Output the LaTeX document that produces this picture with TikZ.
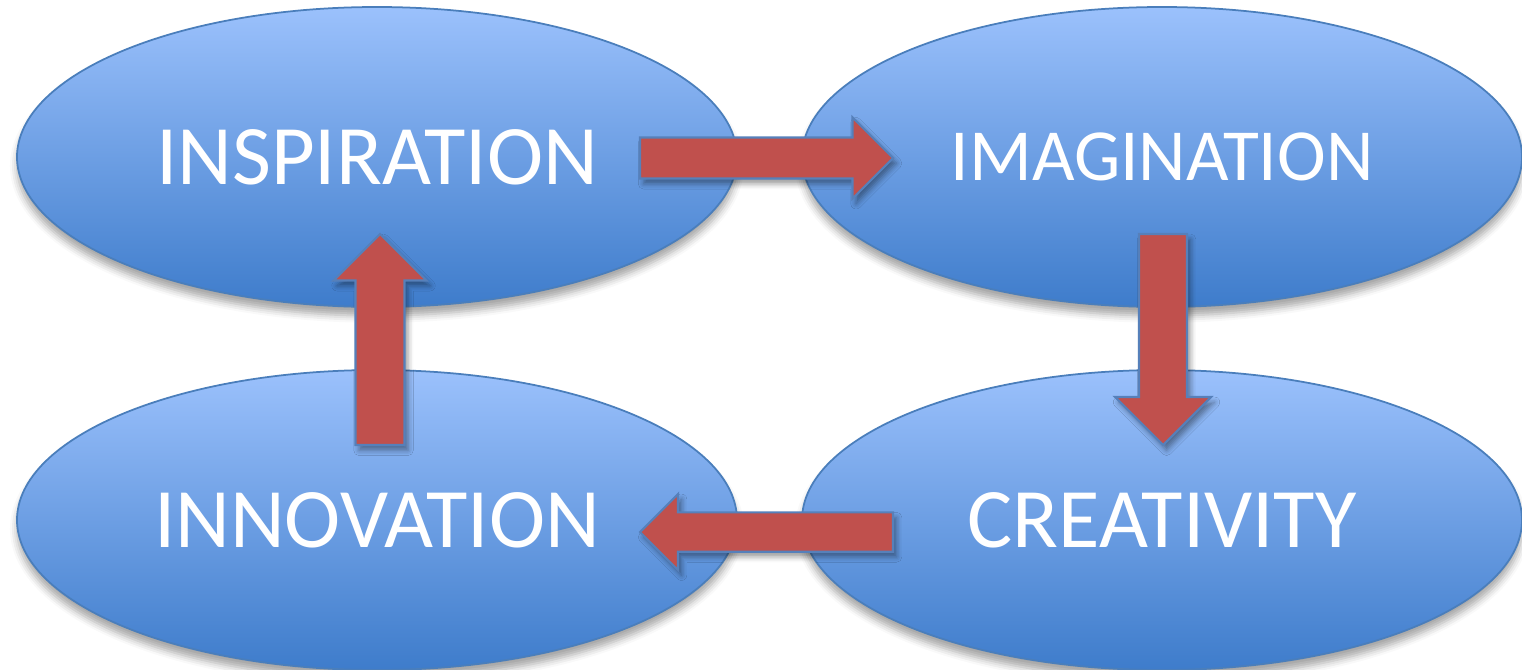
\documentclass[tikz,border=0pt]{standalone}
\usepackage{fontspec}
\setmainfont{Carlito}
\usetikzlibrary{positioning, calc, shapes.geometric, shadows.blur}

\definecolor{ovaltop}{RGB}{155,193,252}
\definecolor{ovalbot}{RGB}{62,124,203}
\definecolor{ovalline}{RGB}{74,126,187}
\definecolor{flowred}{RGB}{192,80,77}
\definecolor{flowline}{RGB}{86,128,186}

\tikzset{
  oval/.style={ellipse, draw=ovalline, line width=0.5pt,
    top color=ovaltop, bottom color=ovalbot,
    minimum width=7.2cm, minimum height=3cm, inner sep=0pt,
    text=white, font=\fontsize{24.1}{28}\selectfont,
    blur shadow={shadow xshift=0pt, shadow yshift=-2.5pt,
      shadow blur radius=2pt, shadow opacity=35}},
  flow/.style={fill=flowred, draw=flowline, line width=0.6pt, line join=miter,
    blur shadow={shadow xshift=1pt, shadow yshift=-1.5pt,
      shadow blur radius=1.5pt, shadow opacity=40}}
}

% block arrow: from, to, half shaft width, half head width (= head length)
\newcommand{\blockarrow}[4]{%
  \draw[flow]
    ($(#1)!#3!-90:(#2)$) -- ($($(#2)!#4!(#1)$)!#3!-90:(#2)$)
    -- ($($(#2)!#4!(#1)$)!#4!-90:(#2)$) -- (#2)
    -- ($($(#2)!#4!(#1)$)!#4!90:(#2)$) -- ($($(#2)!#4!(#1)$)!#3!90:(#2)$)
    -- ($(#1)!#3!90:(#2)$) -- cycle;}

\begin{document}
\begin{tikzpicture}
  \useasboundingbox (0,0) rectangle (15.22,6.69);

  \node[oval] (insp) at (3.77,5.12) {INSPIRATION};
  \node[oval, font=\fontsize{20.9}{25}\selectfont] (imag) at (11.62,5.12) {IMAGINATION};
  \node[oval] (inno) at (3.77,1.49) {INNOVATION};
  \node[oval] (crea) at (11.62,1.49) {CREATIVITY};

  % arrow ends
  \coordinate (r0) at ($(insp.center)+(2.63,-0.01)$);
  \coordinate (r1) at ($(imag.center)+(-2.69,-0.01)$);
  \coordinate (d0) at ($(imag.center)+(0.01,-0.77)$);
  \coordinate (d1) at ($(crea.center)+(0.01,0.75)$);
  \coordinate (l0) at ($(crea.center)+(-2.69,-0.12)$);
  \coordinate (l1) at ($(inno.center)+(2.63,-0.12)$);
  \coordinate (u0) at ($(inno.center)+(0.03,0.75)$);
  \coordinate (u1) at ($(insp.center)+(0.03,-0.77)$);

  \blockarrow{r0}{r1}{0.205cm}{0.405cm}
  \blockarrow{d0}{d1}{0.24cm}{0.48cm}
  \blockarrow{l0}{l1}{0.197cm}{0.38cm}
  \blockarrow{u0}{u1}{0.245cm}{0.465cm}
\end{tikzpicture}
\end{document}
